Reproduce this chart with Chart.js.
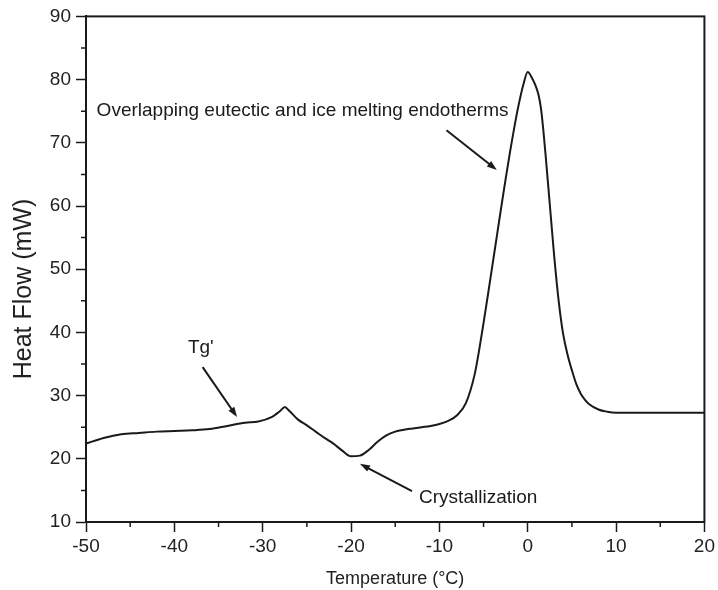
<!DOCTYPE html>
<html>
<head>
<meta charset="utf-8">
<script src="https://cdn.jsdelivr.net/npm/chart.js@4.4.1/dist/chart.umd.min.js"></script>
<style>
  html, body { margin: 0; padding: 0; background: #fff; }
  #wrap { width: 718px; height: 590px; }
</style>
</head>
<body>
<div id="wrap"><canvas id="dsc" width="718" height="590"></canvas></div>
<script>
// DSC trace
const temps = [-50, -48, -46, -44, -42, -40, -38, -36, -34, -32, -30.5, -29, -28, -27.5, -27, -26, -25, -24, -23, -22,
  -21, -20, -19, -18, -17, -16, -15, -14, -13, -12, -11, -10, -9, -8, -7, -6, -5.5, -5, -4.5, -4,
  -3.5, -3, -2.5, -2, -1.5, -1, -0.5, 0, 0.5, 1, 1.25, 1.5, 1.75, 2, 2.5, 3, 3.5, 4, 4.5, 5, 5.5, 6, 6.5,
  7, 8, 9, 10, 12, 15, 20];
const heatFlow = [22.4, 23.3, 23.9, 24.1, 24.3, 24.4, 24.5, 24.7, 25.2, 25.7, 25.9, 26.6, 27.6, 28.2, 27.6, 26.2, 25.3, 24.3, 23.3, 22.4,
  21.3, 20.4, 20.5, 21.4, 22.7, 23.7, 24.3, 24.6, 24.8, 25.0, 25.2, 25.5, 26.0, 26.9, 28.8, 33.4, 37.2, 41.5, 46.0, 50.6,
  55.2, 59.8, 64.3, 68.6, 72.6, 76.2, 79.2, 81.2, 80.2, 78.6, 77.4, 75.4, 72.2, 68.4, 60.2, 52.0, 45.0, 39.8, 36.5, 34.0, 31.8, 30.3, 29.3,
  28.6, 27.8, 27.45, 27.3, 27.3, 27.3, 27.3];

const xTicks = [-50, -40, -30, -20, -10, 0, 10, 20];
const yTicks = [10, 20, 30, 40, 50, 60, 70, 80, 90];

// annotation labels and arrows, in data units
const notes = [
  { text: "Overlapping eutectic and ice melting endotherms", x: -48.8, y: 75.1, align: "left",
    from: [-9.2, 72.0], to: [-3.5, 65.7] },
  { text: "Tg'", x: -37.0, y: 37.5, align: "center", from: [-36.8, 34.5], to: [-32.9, 26.6] },
  { text: "Crystallization", x: -12.3, y: 13.8, align: "left", from: [-13.1, 14.9], to: [-19.0, 19.2] }
];

const FONT = "'Liberation Sans', Arial, sans-serif";
const INK = "#1a1a1a";

const points = temps.map((t, i) => ({ x: t, y: heatFlow[i] }));

function arrow(ctx, x1, y1, x2, y2) {
  const ang = Math.atan2(y2 - y1, x2 - x1);
  const len = 10, half = 3.5;
  ctx.beginPath();
  ctx.moveTo(x1, y1);
  ctx.lineTo(x2 - Math.cos(ang) * len * 0.8, y2 - Math.sin(ang) * len * 0.8);
  ctx.stroke();
  ctx.beginPath();
  ctx.moveTo(x2, y2);
  ctx.lineTo(x2 - Math.cos(ang) * len - Math.sin(ang) * half, y2 - Math.sin(ang) * len + Math.cos(ang) * half);
  ctx.lineTo(x2 - Math.cos(ang) * len + Math.sin(ang) * half, y2 - Math.sin(ang) * len - Math.cos(ang) * half);
  ctx.closePath();
  ctx.fill();
}

const framePlugin = {
  id: "frame",
  afterDraw(chart) {
    const ctx = chart.ctx;
    const a = chart.chartArea;
    const xs = chart.scales.x, ys = chart.scales.y;
    ctx.save();
    ctx.strokeStyle = INK;
    ctx.fillStyle = INK;
    ctx.lineWidth = 2;
    ctx.strokeRect(a.left, a.top, a.right - a.left, a.bottom - a.top);

    // minor ticks
    ctx.lineWidth = 1.5;
    ctx.beginPath();
    for (let v = xs.min + 5; v < xs.max; v += 10) {
      const px = xs.getPixelForValue(v);
      ctx.moveTo(px, a.bottom);
      ctx.lineTo(px, a.bottom + 5);
    }
    for (let v = ys.min + 5; v < ys.max; v += 10) {
      const py = ys.getPixelForValue(v);
      ctx.moveTo(a.left, py);
      ctx.lineTo(a.left - 5, py);
    }
    ctx.stroke();

    // annotations
    ctx.font = "19px " + FONT;
    ctx.textBaseline = "middle";
    ctx.lineWidth = 2;
    notes.forEach(n => {
      ctx.textAlign = n.align;
      ctx.fillText(n.text, xs.getPixelForValue(n.x), ys.getPixelForValue(n.y));
      arrow(ctx, xs.getPixelForValue(n.from[0]), ys.getPixelForValue(n.from[1]),
        xs.getPixelForValue(n.to[0]), ys.getPixelForValue(n.to[1]));
    });

    // y axis title (sits a little below the axis middle in the original)
    ctx.save();
    ctx.translate(24, 289);
    ctx.rotate(-Math.PI / 2);
    ctx.font = "25px " + FONT;
    ctx.textAlign = "center";
    ctx.fillStyle = "#222";
    ctx.fillText("Heat Flow (mW)", 0, 0);
    ctx.restore();
    ctx.restore();
  }
};

new Chart(document.getElementById("dsc"), {
  type: "scatter",
  data: {
    datasets: [{
      data: points,
      showLine: true,
      borderColor: INK,
      borderWidth: 2,
      pointRadius: 0,
      cubicInterpolationMode: "monotone",
      fill: false
    }]
  },
  options: {
    responsive: false,
    animation: false,
    layout: { padding: { top: 16, right: 12, left: 0, bottom: 0 } },
    plugins: { legend: { display: false }, tooltip: { enabled: false } },
    scales: {
      x: {
        type: "linear",
        min: -50, max: 20,
        afterBuildTicks: s => { s.ticks = xTicks.map(v => ({ value: v })); },
        afterFit: s => { s.height = 68; },
        border: { display: true, color: INK, width: 2 },
        grid: { drawOnChartArea: false, drawTicks: true, tickLength: 10, tickWidth: 1.5, tickColor: INK },
        ticks: { color: "#222", font: { family: FONT, size: 19 }, padding: 3, maxRotation: 0 },
        title: { display: true, text: "Temperature (\u00B0C)", color: "#222", font: { family: FONT, size: 18 }, padding: { top: 1, bottom: 0 } }
      },
      y: {
        type: "linear",
        min: 10, max: 90,
        afterBuildTicks: s => { s.ticks = yTicks.map(v => ({ value: v })); },
        afterFit: s => { s.width = 86; },
        border: { display: true, color: INK, width: 2 },
        grid: { drawOnChartArea: false, drawTicks: true, tickLength: 10, tickWidth: 1.5, tickColor: INK },
        ticks: { color: "#222", font: { family: FONT, size: 19 }, padding: 5 },
        title: { display: false }
      }
    }
  },
  plugins: [framePlugin]
});
</script>
</body>
</html>
